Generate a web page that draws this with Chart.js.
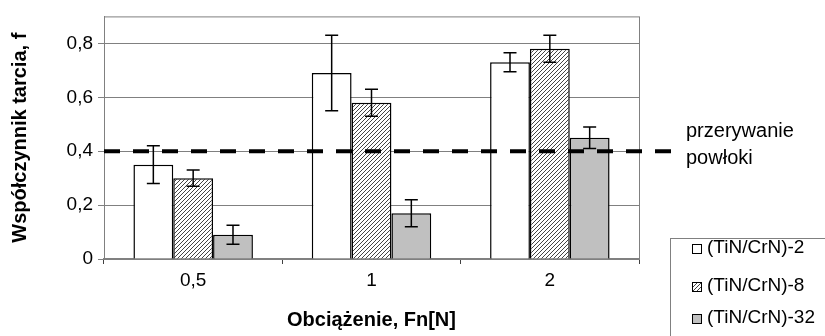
<!DOCTYPE html>
<html>
<head>
<meta charset="utf-8">
<script src="https://cdn.jsdelivr.net/npm/chart.js@4"></script>
<style>
  html, body { margin: 0; padding: 0; background: #fff; }
  #wrap { width: 825px; height: 336px; position: relative; }
</style>
</head>
<body>
<div id="wrap"><canvas id="chart"></canvas></div>
<script>
// data
const loads = ['0,5', '1', '2'];
const seriesNames = ['(TiN/CrN)-2', '(TiN/CrN)-8', '(TiN/CrN)-32'];
const coef2 = [0.35, 0.69, 0.73];
const coef8 = [0.30, 0.58, 0.78];
const coef32 = [0.09, 0.17, 0.45];
const err2 = [0.07, 0.14, 0.035];
const err8 = [0.03, 0.05, 0.05];
const err32 = [0.035, 0.05, 0.04];
const threshold = 0.4;
const thresholdLabel = ['przerywanie', 'powłoki'];

const FONT = '"Liberation Sans", Arial, sans-serif';

// hatch fill like excel's "light upward diagonal"
function hatch() {
  const c = document.createElement('canvas');
  c.width = 4; c.height = 4;
  const g = c.getContext('2d');
  g.fillStyle = '#fff'; g.fillRect(0, 0, 4, 4);
  g.strokeStyle = '#444'; g.lineWidth = 1;
  g.beginPath();
  g.moveTo(-1, 5); g.lineTo(5, -1);
  g.moveTo(-1, 1); g.lineTo(1, -1);
  g.moveTo(3, 5); g.lineTo(5, 3);
  g.stroke();
  return g.createPattern(c, 'repeat');
}
const hatchFill = hatch();

const errorBars = {
  id: 'errorBars',
  afterDatasetsDraw(chart) {
    const ctx = chart.ctx, y = chart.scales.y;
    ctx.save();
    ctx.strokeStyle = '#000'; ctx.lineWidth = 1.5;
    chart.data.datasets.forEach((ds, i) => {
      chart.getDatasetMeta(i).data.forEach((bar, j) => {
        const v = ds.data[j], e = ds.errors[j];
        const top = y.getPixelForValue(v + e), bot = y.getPixelForValue(v - e);
        ctx.beginPath();
        ctx.moveTo(bar.x, top); ctx.lineTo(bar.x, bot);
        ctx.moveTo(bar.x - 6.5, top); ctx.lineTo(bar.x + 6.5, top);
        ctx.moveTo(bar.x - 6.5, bot); ctx.lineTo(bar.x + 6.5, bot);
        ctx.stroke();
      });
    });
    ctx.restore();
  }
};

const extras = {
  id: 'extras',
  beforeDatasetsDraw(chart) {
    const {ctx, chartArea: a} = chart;
    ctx.save();
    ctx.strokeStyle = '#808080'; ctx.lineWidth = 1;
    ctx.strokeRect(a.left + 0.5, a.top + 0.5, a.right - a.left, a.bottom - a.top);
    ctx.restore();
  },
  afterDraw(chart) {
    const {ctx, chartArea: a} = chart;
    const y0 = chart.scales.y.getPixelForValue(threshold);
    ctx.save();
    // threshold line
    ctx.strokeStyle = '#000'; ctx.lineWidth = 4;
    ctx.setLineDash([16, 13]);
    ctx.beginPath(); ctx.moveTo(a.left, y0); ctx.lineTo(a.right + 40, y0); ctx.stroke();
    ctx.setLineDash([]);
    ctx.fillStyle = '#000';
    ctx.font = '20px ' + FONT;
    ctx.textBaseline = 'middle';
    ctx.fillText(thresholdLabel[0], a.right + 47, y0 - 20);
    ctx.fillText(thresholdLabel[1], a.right + 47, y0 + 7);
    // legend
    ctx.strokeStyle = '#808080'; ctx.lineWidth = 1;
    ctx.strokeRect(670.5, 238.5, 200, 120);
    ctx.font = '19px ' + FONT;
    const rows = [248, 286, 318];
    chart.data.datasets.forEach((ds, i) => {
      ctx.fillStyle = ds.backgroundColor;
      ctx.fillRect(692, rows[i] - 4, 10, 10);
      ctx.strokeStyle = '#000'; ctx.lineWidth = 1;
      ctx.strokeRect(692.5, rows[i] - 3.5, 9, 9);
      ctx.fillStyle = '#000';
      ctx.fillText(ds.label, 707, rows[i]);
    });
    ctx.restore();
  }
};

const mk = (label, data, errors, fill) => ({
  label, data, errors,
  backgroundColor: fill,
  borderColor: '#000',
  borderWidth: 1.5,
  barPercentage: 1,
  categoryPercentage: 0.67
});

new Chart(document.getElementById('chart'), {
  type: 'bar',
  data: {
    labels: loads,
    datasets: [
      mk(seriesNames[0], coef2, err2, '#ffffff'),
      mk(seriesNames[1], coef8, err8, hatchFill),
      mk(seriesNames[2], coef32, err32, '#c0c0c0')
    ]
  },
  options: {
    responsive: true,
    maintainAspectRatio: false,
    animation: false,
    layout: { padding: { top: 12, right: 186, left: 0, bottom: 0 } },
    plugins: { legend: { display: false }, tooltip: { enabled: false } },
    scales: {
      x: {
        afterFit: s => { s.height = 77; },
        grid: { offset: true, drawOnChartArea: false, drawTicks: true, tickLength: 5, color: '#404040' },
        border: { color: '#808080', width: 1.5 },
        ticks: { color: '#000', font: { family: FONT, size: 19 }, padding: 5 },
        title: {
          display: true, text: 'Obciążenie, Fn[N]', color: '#000',
          font: { family: FONT, size: 20, weight: 'bold' },
          padding: { top: 0, bottom: 4 }
        }
      },
      y: {
        min: 0, max: 0.9,
        afterFit: s => { s.width = 104; },
        grid: { color: '#808080', tickLength: 6, lineWidth: 1 },
        border: { color: '#808080' },
        ticks: {
          stepSize: 0.2, includeBounds: false, color: '#000', padding: 5,
          font: { family: FONT, size: 19 },
          callback: v => v === 0 ? '0' : v.toFixed(1).replace('.', ',')
        },
        title: {
          display: true, text: 'Współczynnik tarcia, f', color: '#000',
          font: { family: FONT, size: 20, weight: 'bold' },
          padding: { top: 8, bottom: 0 }
        }
      }
    }
  },
  plugins: [extras, errorBars]
});
</script>
</body>
</html>
